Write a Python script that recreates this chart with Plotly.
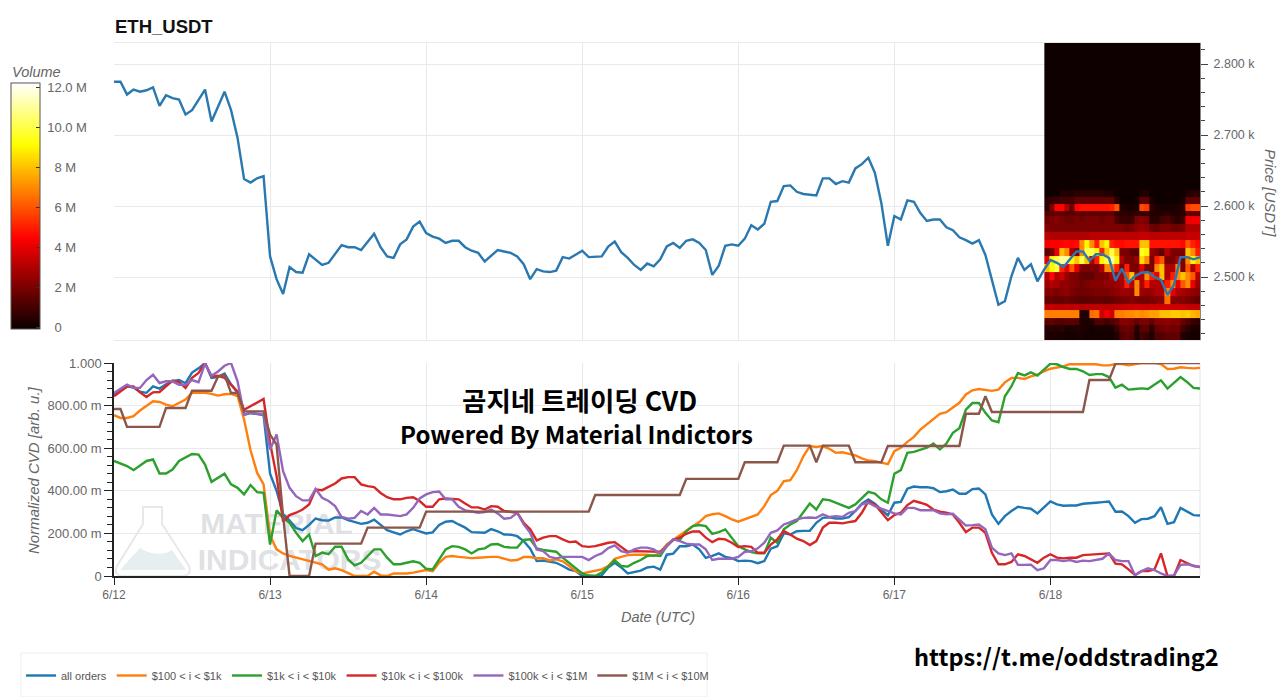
import pandas as pd
import plotly.graph_objects as go

W, H = 1280, 697

price = [2775,2775,2757,2764,2761,2763,2767,2741,2756,2752,2750,2729,2735,2749,2764,2719,2740,2761,2735,2696,
 2638,2633,2639,2642,2529,2497,2476,2514,2507,2506,2532,2525,2517,2520,2532,2545,2542,2542,2538,2550,
 2561,2542,2529,2527,2546,2553,2571,2578,2562,2557,2554,2548,2551,2551,2542,2537,2534,2522,2530,2538,
 2536,2534,2529,2518,2497,2511,2508,2507,2509,2528,2526,2531,2537,2528,2529,2529,2543,2550,2535,2527,
 2517,2510,2519,2515,2525,2543,2548,2541,2551,2553,2548,2538,2503,2516,2544,2546,2544,2554,2573,2567,
 2575,2606,2607,2628,2629,2620,2617,2616,2615,2639,2639,2631,2635,2633,2653,2659,2668,2647,2604,2544,
 2586,2581,2608,2606,2590,2579,2581,2581,2570,2566,2556,2552,2547,2552,2531,2496,2461,2466,2501,2527,
 2510,2518,2494,2510,2524,2520,2514,2525,2536,2536,2523,2532,2532,2527,2495,2512,2492,2501,2506,2507,
 2500,2496,2475,2489,2528,2528,2525,2528]

all_orders = [850,870,890,885,865,860,890,880,900,915,
 920,905,955,975,1000,930,935,950,900,860,
 757,765,760,755,480,400,290,260,225,215,
 240,270,262,260,275,275,262,253,245,250,
 265,240,215,205,195,210,220,210,200,205,
 240,255,258,242,227,206,206,203,220,210,
 195,194,187,164,128,70,73,69,62,47,
 30,23,0,3,0,3,40,62,40,12,
 20,25,40,44,30,100,105,140,140,148,
 125,85,94,106,90,84,70,72,70,60,
 70,128,140,200,195,210,212,212,250,273,
 276,270,270,276,305,340,360,340,310,285,
 344,348,410,420,417,417,412,394,398,406,
 386,386,408,411,383,289,245,281,305,325,
 320,316,294,320,350,336,330,331,331,339,
 340,344,347,350,302,303,281,250,267,269,
 281,323,245,253,320,305,286,284]

tier_100_1k = [755,742,742,750,777,800,820,817,805,797,
 812,828,860,860,860,855,847,853,855,845,
 735,590,485,430,190,125,106,94,86,78,
 70,62,55,30,36,28,12,0,0,0,
 20,3,0,12,12,12,16,23,28,23,
 62,90,94,90,87,84,86,89,90,90,
 83,73,75,89,89,83,83,73,78,69,
 47,23,12,19,23,31,47,81,90,98,
 100,100,100,94,110,148,170,190,216,234,
 253,281,290,294,281,266,255,266,278,289,
 328,380,400,445,450,497,562,610,606,610,
 597,578,581,575,566,552,542,539,531,525,
 586,602,630,653,687,711,734,761,769,792,
 813,852,872,878,875,869,875,909,930,930,
 925,937,945,961,973,980,984,995,995,992,
 992,994,989,989,995,995,989,994,1000,1000,
 1000,995,972,973,980,977,975,977]

tier_1k_10k = [540,527,516,497,519,540,547,481,481,500,
 540,555,573,570,523,442,461,480,430,414,
 383,427,394,390,148,308,273,250,203,164,
 195,94,110,102,137,137,78,50,62,94,
 125,125,86,55,55,62,69,62,34,31,
 78,125,140,137,125,106,125,130,148,150,
 137,133,134,169,172,130,122,117,114,86,
 62,36,12,0,0,16,47,73,47,44,
 62,75,94,97,94,140,172,169,210,234,
 239,234,198,206,219,180,140,125,112,106,
 106,180,156,219,242,258,297,340,312,360,
 356,344,333,320,336,367,395,387,360,344,
 480,497,578,583,594,602,622,594,622,672,
 694,781,812,812,766,730,722,844,890,953,
 942,956,941,969,997,994,981,972,972,961,
 944,948,948,934,884,898,875,878,881,878,
 898,919,880,906,934,911,883,880]

tier_10k_100k = [844,867,890,890,862,840,862,864,890,917,
 910,883,930,953,1000,937,940,930,898,867,
 780,797,812,831,625,469,255,286,297,312,
 336,406,403,419,434,458,464,464,430,422,
 417,390,370,360,360,367,370,352,325,325,
 360,364,362,360,340,322,322,312,328,325,
 305,300,297,250,219,167,180,187,187,172,
 159,162,140,137,140,148,156,159,137,114,
 117,117,117,114,114,140,169,180,198,209,
 209,180,159,175,172,156,136,140,137,109,
 109,148,172,211,195,175,164,145,164,227,
 250,250,247,253,258,297,350,336,297,262,
 286,297,333,353,344,334,312,302,297,289,
 250,206,227,227,203,109,55,55,66,102,
 94,78,62,86,102,86,83,86,86,98,
 100,102,103,106,58,55,31,5,23,23,
 31,106,0,0,75,62,47,42]

tier_100k_1m = [860,878,898,883,883,920,945,906,914,914,
 898,898,920,910,997,940,960,987,1000,914,
 758,766,762,758,594,664,492,414,375,355,
 355,409,367,352,328,277,269,273,305,289,
 320,289,289,286,281,289,320,364,383,394,
 397,360,360,325,308,303,297,300,312,294,
 269,273,297,242,203,125,117,90,83,90,
 90,90,90,75,94,106,131,144,117,109,
 125,133,133,125,106,140,172,164,152,148,
 148,125,75,81,81,81,90,114,116,130,
 156,203,214,242,253,266,273,275,273,289,
 277,281,277,297,305,336,344,328,316,305,
 294,289,320,320,309,309,309,294,290,292,
 266,237,239,242,219,133,106,98,106,52,
 52,53,27,36,75,75,70,75,66,72,
 70,77,81,106,75,70,70,3,23,36,
 28,12,0,3,52,55,47,42]

tier_1m_10m = [784,784,700,700,700,700,700,700,789,789,
 789,789,870,870,870,870,937,945,859,859,
 773,773,773,773,664,617,281,0,0,0,
 0,152,152,152,152,152,152,152,152,227,
 227,227,227,227,227,227,227,227,302,302,
 302,302,302,302,302,302,302,302,302,302,
 302,302,302,302,302,302,302,302,302,302,
 302,302,302,302,380,380,380,380,380,380,
 380,380,380,380,380,380,380,380,456,456,
 456,456,456,456,456,456,456,534,534,534,
 534,534,534,612,612,612,612,612,534,612,
 612,612,612,612,534,534,534,534,534,610,
 610,610,610,610,610,610,610,610,610,610,
 610,762,762,762,844,770,770,770,770,770,
 770,770,770,770,770,770,770,770,770,770,
 920,920,920,920,997,1000,1000,1000,1000,1000,
 1000,1000,1000,1000,1000,1000,1000,1000]

series_names = ["all orders", "$100 < i < $1k", "$1k < i < $10k", "$10k < i < $100k", "$100k < i < $1M", "$1M < i < $10M"]
series_colors = ["#1f77b4", "#ff7f0e", "#2ca02c", "#d62728", "#9467bd", "#8c564b"]

# price band edges (USDT) of the volume heatmap, bottom to top
heat_edges = [2411,2422,2432,2442,2453,2462,2473,2484,2496,2507,2518,2530,2541,2552,2564,2575,2586,2593,2603,2613,2623,2831]
# volume in millions per band (bottom to top), 31 time columns
heat_r00 = [.3,.2,.2,.2,.1,.1,.2,.2,.1,.1,.1,.1,.1,.1,.3,1.2,1.5,1.3,.2,1.0,.8,.3,1.2,1.2,1.5,1.5,1.5,.3,.2,.1,.1]
heat_r01 = [.4,.5,.4,.5,.2,.3,.3,.3,.2,.1,.2,.2,.2,.2,.8,1.6,1.8,1.6,.3,1.4,1.4,.5,1.6,1.8,1.9,1.8,1.8,1.0,.5,.2,.2]
heat_r02 = [1.4,1.5,1.3,1.2,1.4,1.4,1.3,.3,.2,.4,1.2,1.2,.9,1.2,1.5,2.2,2.2,2.0,1.5,2.0,2.0,1.5,2.2,2.2,2.4,2.2,2.2,1.6,1.2,.8,.6]
heat_r03 = [6.8,6.8,6.8,6.8,6.8,6.8,6.8,.3,.3,6.4,6.6,3.6,4.2,3.6,6.8,6.8,7.0,7.0,7.2,7.0,7.2,7.4,7.4,8.0,8.0,8.2,8.2,8.0,8.2,7.8,7.6]
heat_r04 = [3.2,3.3,3.2,3.2,3.3,3.2,3.2,3.1,3.2,3.2,3.3,3.2,3.2,3.2,3.3,3.4,3.5,3.5,3.6,3.5,3.5,3.6,3.5,3.6,3.6,3.5,3.5,3.5,3.4,3.3,3.3]
heat_r05 = [1.6,1.7,1.6,1.6,1.8,1.6,1.5,1.4,1.4,1.5,1.6,1.6,1.5,1.6,1.8,1.9,2.0,2.2,2.0,1.9,1.9,2.0,2.2,2.3,6.5,2.2,2.2,2.2,2.0,1.8,1.6]
heat_r06 = [2.2,2.2,2.0,2.2,2.4,2.0,1.8,1.8,1.8,1.9,2.0,2.0,2.0,2.2,2.4,2.6,2.6,2.4,7.0,2.6,2.4,2.6,3.0,3.0,7.0,4.0,3.0,2.8,2.6,2.4,2.2]
heat_r07 = [2.6,3.0,2.8,2.4,2.4,2.2,2.0,1.8,2.0,2.2,2.2,2.2,2.4,2.4,2.6,2.8,5.0,3.0,7.0,3.0,5.0,3.0,3.0,3.0,5.0,7.0,4.0,6.0,7.0,4.0,2.6]
heat_r08 = [3.0,4.5,3.0,3.5,2.6,2.0,2.0,1.5,1.5,1.5,2.0,2.0,2.2,3.0,3.0,3.0,6.0,8.0,3.0,3.0,7.0,5.0,4.0,8.0,3.0,5.0,7.0,8.0,7.0,6.0,3.0]
heat_r09 = [8.0,9.0,10.0,5.0,4.0,6.0,4.0,2.0,2.0,2.0,2.0,3.0,7.0,7.0,5.0,2.0,5.0,2.0,2.0,4.0,2.0,2.0,7.0,8.0,3.0,3.0,7.0,2.0,6.0,3.0,5.0]
heat_r10 = [4.0,9.0,10.0,11.0,11.0,9.0,8.0,10.0,8.0,3.0,5.0,9.0,10.0,11.0,9.0,3.0,2.0,2.0,2.5,8.5,7.0,2.0,5.0,6.0,2.0,2.0,3.0,2.0,7.0,9.0,8.0]
heat_r11 = [1.5,2.0,4.0,8.0,7.0,3.0,2.0,7.0,10.0,10.0,9.0,5.0,8.0,10.0,8.0,2.0,2.0,1.5,1.5,9.5,9.0,2.5,2.0,1.5,3.0,2.0,2.0,2.0,8.0,7.0,5.0]
heat_r12 = [4.2,4.4,4.4,4.5,4.6,4.5,4.6,7.0,9.0,7.0,5.0,8.0,9.0,5.0,4.6,4.6,4.8,4.8,4.8,8.0,8.0,4.8,4.8,4.8,4.8,4.8,4.8,4.6,6.0,5.0,4.6]
heat_r13 = [3.2,3.0,3.0,3.0,3.0,3.0,3.0,3.0,3.0,3.2,3.2,3.2,3.2,3.2,3.2,3.2,3.2,3.2,3.2,3.4,3.4,3.2,3.2,3.2,3.2,3.2,3.2,3.2,3.4,3.4,3.4]
heat_r14 = [2.2,2.0,2.0,2.0,2.0,2.0,2.0,2.0,2.0,2.0,2.0,2.0,2.0,2.0,2.0,2.0,1.8,2.0,2.4,2.6,2.4,1.8,1.6,2.0,2.0,1.8,1.8,2.0,3.0,3.0,3.0]
heat_r15 = [1.8,2.0,2.2,2.0,1.8,1.8,2.0,1.8,2.0,2.0,2.0,1.8,2.0,2.0,1.2,.8,.8,.8,2.0,2.2,2.0,.5,.5,1.0,1.2,.8,.5,.8,4.2,4.2,4.2]
heat_r16 = [1.3,1.5,1.5,1.5,1.3,1.4,1.5,1.5,1.5,1.5,1.5,1.5,1.5,1.5,.8,.6,.5,.5,.6,.8,.8,.3,.3,.4,.5,.3,.3,.5,1.5,1.5,1.5]
heat_r17 = [.5,2.0,4.5,4.5,3.0,1.5,4.5,4.8,4.8,4.8,4.8,4.8,4.8,5.0,6.0,.4,.2,.2,.3,5.8,5.5,.6,.2,.2,.2,.2,.3,.5,5.5,5.8,5.8]
heat_r18 = [.5,.8,.8,1.0,1.0,1.0,1.5,1.5,1.5,1.5,1.5,1.5,1.5,1.5,.5,0,0,0,.2,1.5,1.5,.2,0,0,0,0,0,.2,1.5,1.5,1.5]
heat_r19 = [0,0,0,.3,.3,.3,.5,.5,.5,.5,.5,.5,.3,.3,0,0,0,0,0,.3,.3,0,0,0,0,0,0,0,.3,.5,.5]
heat_r20 = [0]*31
heat_rows = [heat_r00,heat_r01,heat_r02,heat_r03,heat_r04,heat_r05,heat_r06,heat_r07,heat_r08,heat_r09,heat_r10,
             heat_r11,heat_r12,heat_r13,heat_r14,heat_r15,heat_r16,heat_r17,heat_r18,heat_r19,heat_r20]

price_ticks = [2500, 2600, 2700, 2800]
price_labels = ["2.500 k", "2.600 k", "2.700 k", "2.800 k"]
cvd_ticks = [0, 200, 400, 600, 800, 1000]
cvd_labels = ["0", "200.00 m", "400.00 m", "600.00 m", "800.00 m", "1.000"]
vol_ticks = [0, 2, 4, 6, 8, 10, 12]
vol_labels = ["\u00a0\u00a0\u00a00", "\u00a0\u00a0\u00a02 M", "\u00a0\u00a0\u00a04 M", "\u00a0\u00a0\u00a06 M", "\u00a0\u00a0\u00a08 M", "\u00a010.0 M", "\u00a012.0 M"]

times = pd.date_range("2024-06-12 00:00", periods=168, freq="h")
heat_x = pd.date_range("2024-06-17 23:04", "2024-06-18 23:00", periods=32)

def px(x): return x / W
def py(y): return 1 - y / H

GRID = "#e9e9e9"
TXT = "#666666"
FONT = "Liberation Sans"

fig = go.Figure()
fig.add_trace(go.Heatmap(
    x=heat_x, y=heat_edges, z=heat_rows, zmin=-0.1, zmax=12.2, xaxis="x", yaxis="y",
    colorscale=[[0, "#0a0000"], [0.37, "#ff0000"], [0.75, "#ffff00"], [1, "#ffffff"]],
    hoverinfo="skip",
    colorbar=dict(x=px(10.5), xanchor="left", y=py(83), yanchor="top", lenmode="pixels", len=246,
                  thicknessmode="pixels", thickness=29, xpad=0, ypad=0,
                  outlinecolor="#555555", outlinewidth=1,
                  tickmode="array", tickvals=vol_ticks, ticktext=vol_labels,
                  ticks="inside", ticklen=4, tickcolor="#333333",
                  tickfont=dict(family=FONT, size=13, color=TXT)),
))
fig.add_trace(go.Scatter(x=times, y=price, mode="lines", line=dict(color="#2a78b0", width=2.4),
                         xaxis="x", yaxis="y", showlegend=False, hoverinfo="skip"))
# watermark words sit underneath the CVD lines
fig.add_trace(go.Scatter(x=[times[25], times[27]], y=[232, 65], mode="text",
                         text=["MATERIAL", "INDICATORS"], textposition="middle center",
                         textfont=dict(family="Liberation Sans", size=30, color="#dfe1e5", weight="bold"),
                         xaxis="x2", yaxis="y2", showlegend=False, hoverinfo="skip"))
for name, color, vals in zip(series_names, series_colors,
                             [all_orders, tier_100_1k, tier_1k_10k, tier_10k_100k, tier_100k_1m, tier_1m_10m]):
    fig.add_trace(go.Scatter(x=times, y=vals, name=name, mode="lines", line=dict(color=color, width=2.4),
                             xaxis="x2", yaxis="y2", cliponaxis=False))

t0, t1 = times[0], times[-1]
fig.update_layout(
    width=W, height=H, autosize=False, margin=dict(l=0, r=0, t=0, b=0, autoexpand=False),
    paper_bgcolor="white", plot_bgcolor="white",
    font=dict(family=FONT, color=TXT, size=12),
    xaxis=dict(domain=[px(114), px(1200)], anchor="y", range=[t0, t1], dtick=86400000, tick0=t0,
               showticklabels=False, ticks="", showgrid=True, gridcolor=GRID, gridwidth=1.2,
               zeroline=False, showline=True, linecolor=GRID, linewidth=1.2, mirror=True),
    yaxis=dict(domain=[py(340), py(43)], anchor="x", side="right", range=[2411.3, 2829.6],
               tickmode="array", tickvals=price_ticks, ticktext=price_labels,
               ticks="outside", ticklen=7, tickcolor="#444444", tickwidth=1.3,
               minor=dict(dtick=20, tick0=2400, ticks="outside", ticklen=4, tickcolor="#444444", tickwidth=1.3, showgrid=False),
               showgrid=True, gridcolor=GRID, gridwidth=1.2, zeroline=False,
               showline=True, linecolor="#888888", linewidth=1,
               tickfont=dict(size=12.5, color=TXT), ticklabelstandoff=3),
    xaxis2=dict(domain=[px(114), px(1200)], anchor="y2", range=[t0, t1], dtick=86400000, tick0=t0,
                tickformat="%-m/%-d", ticks="outside", ticklen=7, tickcolor="#222222", tickwidth=1.3,
                showgrid=True, gridcolor=GRID, gridwidth=1.2, zeroline=False,
                showline=True, linecolor="#222222", linewidth=1.5, tickfont=dict(size=12, color=TXT)),
    yaxis2=dict(domain=[py(576), py(363)], anchor="x2", range=[0, 1000],
                tickmode="array", tickvals=cvd_ticks, ticktext=cvd_labels,
                ticks="outside", ticklen=8, tickcolor="#222222", tickwidth=1.3,
                minor=dict(dtick=40, tick0=0, ticks="outside", ticklen=5, tickcolor="#222222", tickwidth=1.3, showgrid=False),
                showgrid=True, gridcolor=GRID, gridwidth=1.2, zeroline=False,
                showline=True, linecolor="#222222", linewidth=1.5, tickfont=dict(size=13, color=TXT)),
    legend=dict(orientation="h", x=px(21), xanchor="left", y=py(661), yanchor="top",
                bgcolor="rgba(0,0,0,0)", font=dict(size=11, color="#555555"), traceorder="normal",
                itemwidth=30, tracegroupgap=0),
    shapes=[
        dict(type="rect", xref="paper", yref="paper", x0=px(21), x1=px(707), y0=py(697), y1=py(653),
             line=dict(color="#eeeeee", width=1), fillcolor="white", layer="below"),
        dict(type="line", xref="paper", yref="paper", x0=px(1200), x1=px(1200), y0=py(576), y1=py(363),
             line=dict(color=GRID, width=1.2), layer="below"),
        # flask emblem of the watermark: liquid then outline
        dict(type="path", xref="paper", yref="paper", layer="below",
             path=f"M {px(120)} {py(570)} L {px(140)} {py(548)} Q {px(152)} {py(556)} {px(166)} {py(553)} L {px(172)} {py(550)} L {px(186)} {py(570)} Z",
             line=dict(width=0), fillcolor="#e6eef0"),
        dict(type="path", xref="paper", yref="paper", layer="below",
             path=f"M {px(143)} {py(507)} L {px(162)} {py(507)} L {px(162)} {py(524)} L {px(189)} {py(566)} Q {px(192)} {py(576)} {px(182)} {py(576)} L {px(124)} {py(576)} Q {px(113)} {py(576)} {px(117)} {py(566)} L {px(143)} {py(524)} Z",
             line=dict(color="#e6e8ea", width=2), fillcolor="rgba(0,0,0,0)"),
    ],
)

def note(text, x, y, size, color="#000000", family="Noto Sans CJK KR", anchor="center", angle=0):
    fig.add_annotation(text=text, xref="paper", yref="paper", x=px(x), y=py(y), xanchor=anchor, yanchor="middle",
                       showarrow=False, textangle=angle, font=dict(family=family, size=size, color=color))

note("<b>ETH_USDT</b>", 112.5, 27, 18.5, family=FONT, color="#111111", anchor="left")
note("<i>Volume</i>", 9.5, 72, 14.5, color=TXT, family=FONT, anchor="left")
note("<i>Price [USDT]</i>", 1270, 193, 15, color=TXT, family=FONT, angle=90)
note("<i>Normalized CVD [arb. u.]</i>", 33, 470, 15, color=TXT, family=FONT, angle=-90)
note("<i>Date (UTC)</i>", 658, 617, 14.5, color=TXT, family=FONT)
note("<b>곰지네 트레이딩 CVD</b>", 579, 399, 26.5)
note("<b>Powered By Material Indictors</b>", 576, 433, 24)
note("<b>https://t.me/oddstrading2</b>", 1066, 656, 23.6)

fig.write_html("out.html", post_script="document.body.style.margin='0';", config=dict(displayModeBar=False))
